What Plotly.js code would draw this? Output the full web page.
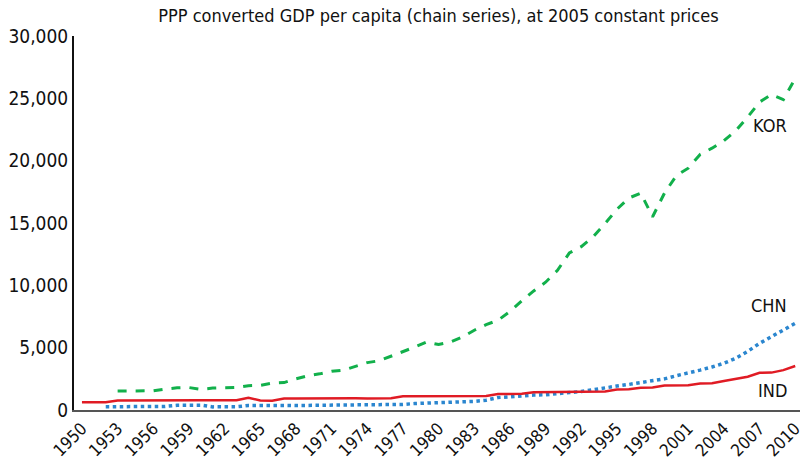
<!DOCTYPE html>
<html>
<head>
<meta charset="utf-8">
<script src="https://cdn.plot.ly/plotly-3.0.1.min.js"></script>
<style>html,body{margin:0;padding:0;background:#fff;}#chart{width:803px;height:459px;}</style>
</head>
<body>
<div id="chart"></div>
<script>
var years = [];
for (var y = 1950; y <= 2010; y++) years.push(y);

var IND = [615,620,620,760,770,770,775,770,775,775,780,780,780,790,990,760,750,920,930,940,940,940,930,935,930,950,950,1100,1110,1110,1110,1110,1115,1120,1120,1280,1290,1300,1420,1430,1440,1430,1450,1460,1490,1650,1670,1780,1800,1970,1980,1990,2130,2150,2320,2490,2670,2990,3000,3200,3530];

var CHN = [null,null,260,270,270,270,280,290,380,400,390,250,240,260,360,380,390,370,360,380,400,410,410,420,420,430,420,450,520,550,570,590,630,690,790,1000,1060,1150,1200,1220,1340,1400,1480,1650,1800,1920,2050,2200,2350,2500,2750,2950,3200,3450,3750,4150,4700,5350,5900,6400,6950];

var KOR = [null,null,null,1520,1540,1560,1540,1680,1780,1800,1660,1760,1780,1820,1950,1980,2150,2200,2500,2750,2900,3100,3200,3500,3800,3950,4300,4650,5050,5450,5250,5450,5850,6400,6850,7200,7900,8750,9550,10250,11200,12600,13100,13900,14950,16100,17000,17400,15500,17400,18800,19400,20500,21000,21600,22400,23500,24700,25300,24900,26600];

var tickYears = [];
for (var t = 1950; t <= 2010; t += 3) tickYears.push(t);
var yTicks = [0,5000,10000,15000,20000,25000,30000];

var labels = [
  {text:'KOR', year:2007.9, value:22800},
  {text:'CHN', year:2007.75, value:8420},
  {text:'IND', year:2008.1, value:1600}
];

var FONT = '"DejaVu Sans Condensed", "DejaVu Sans", sans-serif';

var traces = [
  {x: years, y: KOR, mode:'lines', name:'KOR', line:{color:'#12b04b', width:3, dash:'dash'}},
  {x: years, y: CHN, mode:'lines', name:'CHN', line:{color:'#2b86cf', width:3.5, dash:'dot'}},
  {x: years, y: IND, mode:'lines', name:'IND', line:{color:'#e01b24', width:2.5}}
];

var layout = {
  width: 803, height: 459,
  margin: {l:74, r:3, t:36, b:49, pad:0},
  paper_bgcolor:'#fff', plot_bgcolor:'#fff',
  showlegend:false,
  title: {text:'PPP converted GDP per capita (chain series), at 2005 constant prices', x:0.502, xref:'paper', y:0.965, yanchor:'middle', font:{family:FONT, stretch:'condensed', size:18, color:'#111'}},
  xaxis: {range:[1949.33, 2010.4], tickmode:'array', tickvals:tickYears, ticktext:tickYears.map(String), tickangle:-45, ticklabeloverflow:'allow', showgrid:false, zeroline:false, showline:true, linecolor:'#555', linewidth:2, ticks:'', tickfont:{family:FONT, stretch:'condensed', size:17, color:'#111'}},
  yaxis: {range:[0,30000], tickmode:'array', tickvals:yTicks, ticktext:yTicks.map(function(v){return v.toLocaleString('en-US');}), showgrid:false, zeroline:false, showline:true, linecolor:'#111', linewidth:2, ticks:'', tickfont:{family:FONT, stretch:'condensed', size:19, color:'#111'}},
  annotations: labels.map(function(l){return {x:l.year, y:l.value, xref:'x', yref:'y', text:l.text, showarrow:false, font:{family:FONT, stretch:'condensed', size:18, color:'#111'}};})
};

Plotly.newPlot('chart', traces, layout, {staticPlot:true, displayModeBar:false});
</script>
</body>
</html>
